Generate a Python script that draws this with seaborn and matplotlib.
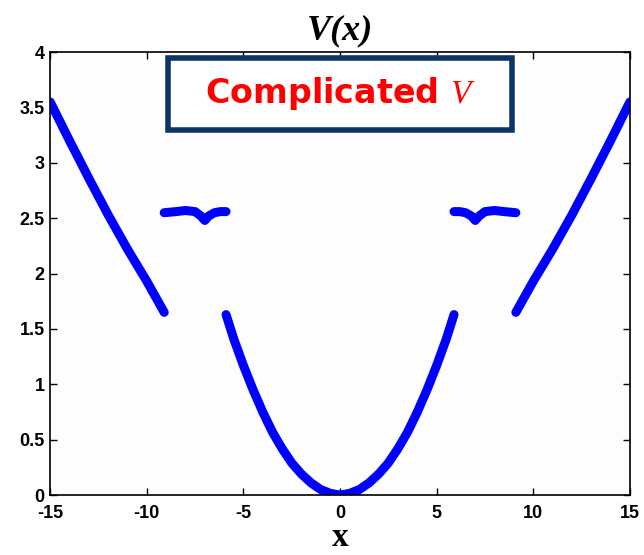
import matplotlib
matplotlib.use("Agg")
import matplotlib.pyplot as plt
import seaborn as sns
import pandas as pd
from matplotlib.patches import Rectangle

# ---- data ----
outer_left_x = [-15.0, -14.0, -13.0, -12.0, -11.0, -10.0, -9.1]
outer_left_y = [3.55, 3.20, 2.86, 2.53, 2.22, 1.93, 1.65]

plateau_left_x = [-9.1, -8.5, -8.0, -7.5, -7.2, -7.0, -6.8, -6.5, -6.2, -5.9]
plateau_left_y = [2.55, 2.56, 2.57, 2.56, 2.52, 2.48, 2.52, 2.55, 2.56, 2.56]

center_x = [-5.9, -5.5, -5.0, -4.5, -4.0, -3.5, -3.0, -2.5, -2.0, -1.5, -1.0, -0.5, 0.0,
            0.5, 1.0, 1.5, 2.0, 2.5, 3.0, 3.5, 4.0, 4.5, 5.0, 5.5, 5.9]
center_y = [1.63, 1.41, 1.17, 0.95, 0.75, 0.57, 0.42, 0.29, 0.19, 0.11, 0.05, 0.015, 0.0,
            0.015, 0.05, 0.11, 0.19, 0.29, 0.42, 0.57, 0.75, 0.95, 1.17, 1.41, 1.63]

plateau_right_x = [5.9, 6.2, 6.5, 6.8, 7.0, 7.2, 7.5, 8.0, 8.5, 9.1]
plateau_right_y = [2.56, 2.56, 2.55, 2.52, 2.48, 2.52, 2.56, 2.57, 2.56, 2.55]

outer_right_x = [9.1, 10.0, 11.0, 12.0, 13.0, 14.0, 15.0]
outer_right_y = [1.65, 1.93, 2.22, 2.53, 2.86, 3.20, 3.55]

x_ticks = [-15, -10, -5, 0, 5, 10, 15]
y_ticks = [0, 0.5, 1, 1.5, 2, 2.5, 3, 3.5, 4]
y_tick_labels = ["0", "0.5", "1", "1.5", "2", "2.5", "3", "3.5", "4"]

segments = [
    (outer_left_x, outer_left_y),
    (plateau_left_x, plateau_left_y),
    (center_x, center_y),
    (plateau_right_x, plateau_right_y),
    (outer_right_x, outer_right_y),
]
rows = []
for i, (xs, ys) in enumerate(segments):
    for xv, yv in zip(xs, ys):
        rows.append({"x": xv, "V": yv, "seg": i})
df = pd.DataFrame(rows)

# ---- figure ----
sns.set_style("ticks")
plt.rcParams["mathtext.fontset"] = "custom"
plt.rcParams["mathtext.it"] = "Liberation Serif:italic"
plt.rcParams["mathtext.rm"] = "Liberation Serif"
plt.rcParams["text.color"] = "black"
plt.rcParams["xtick.color"] = "black"
plt.rcParams["ytick.color"] = "black"
plt.rcParams["axes.labelcolor"] = "black"

fig = plt.figure(figsize=(6.44, 5.55), dpi=100)
fig.patch.set_facecolor("white")
ax = fig.add_axes([0.078, 0.108, 0.900, 0.798])
ax.set_facecolor("#fdfdfd")

sns.lineplot(data=df, x="x", y="V", units="seg", estimator=None, sort=False,
             color="#0000ff", linewidth=6.5, ax=ax, legend=False,
             solid_capstyle="round", solid_joinstyle="round")

ax.set_xlim(-15, 15)
ax.set_ylim(0, 4)
ax.set_xticks(x_ticks)
ax.set_xticklabels([str(t) for t in x_ticks])
ax.set_yticks(y_ticks)
ax.set_yticklabels(y_tick_labels)
for spine in ax.spines.values():
    spine.set_visible(True)
    spine.set_linewidth(1.2)
    spine.set_color("black")
ax.tick_params(direction="in", length=5, width=1.0, top=True, right=True,
               labelsize=13, colors="black")
ax.tick_params(axis="x", pad=7)
ax.tick_params(axis="y", pad=4)
for lab in ax.get_xticklabels() + ax.get_yticklabels():
    lab.set_fontfamily("Liberation Sans")
    lab.set_fontweight("bold")

ax.set_xlabel("x", fontsize=24, fontweight="bold", fontfamily="Liberation Serif",
              labelpad=0, color="black")
ax.set_ylabel("")
ax.set_title("V(x)", fontsize=26, fontweight="bold", fontstyle="italic",
             fontfamily="Liberation Serif", pad=9, color="black")

# annotation box
x0, x1 = 168 / 644, 512 / 644
y0, y1 = 1 - 130 / 555, 1 - 58 / 555
fig.patches.append(Rectangle((x0, y0), x1 - x0, y1 - y0, transform=fig.transFigure,
                             facecolor="white", edgecolor="#0d3466", linewidth=4.0,
                             zorder=5))
fig.text((x0 + x1) / 2, (y0 + y1) / 2, r"Complicated $\mathit{V}$", color="#ff0000",
         fontsize=24, fontweight="bold", fontfamily="DejaVu Sans",
         ha="center", va="center", zorder=6)

fig.savefig("out.png", dpi=100)
